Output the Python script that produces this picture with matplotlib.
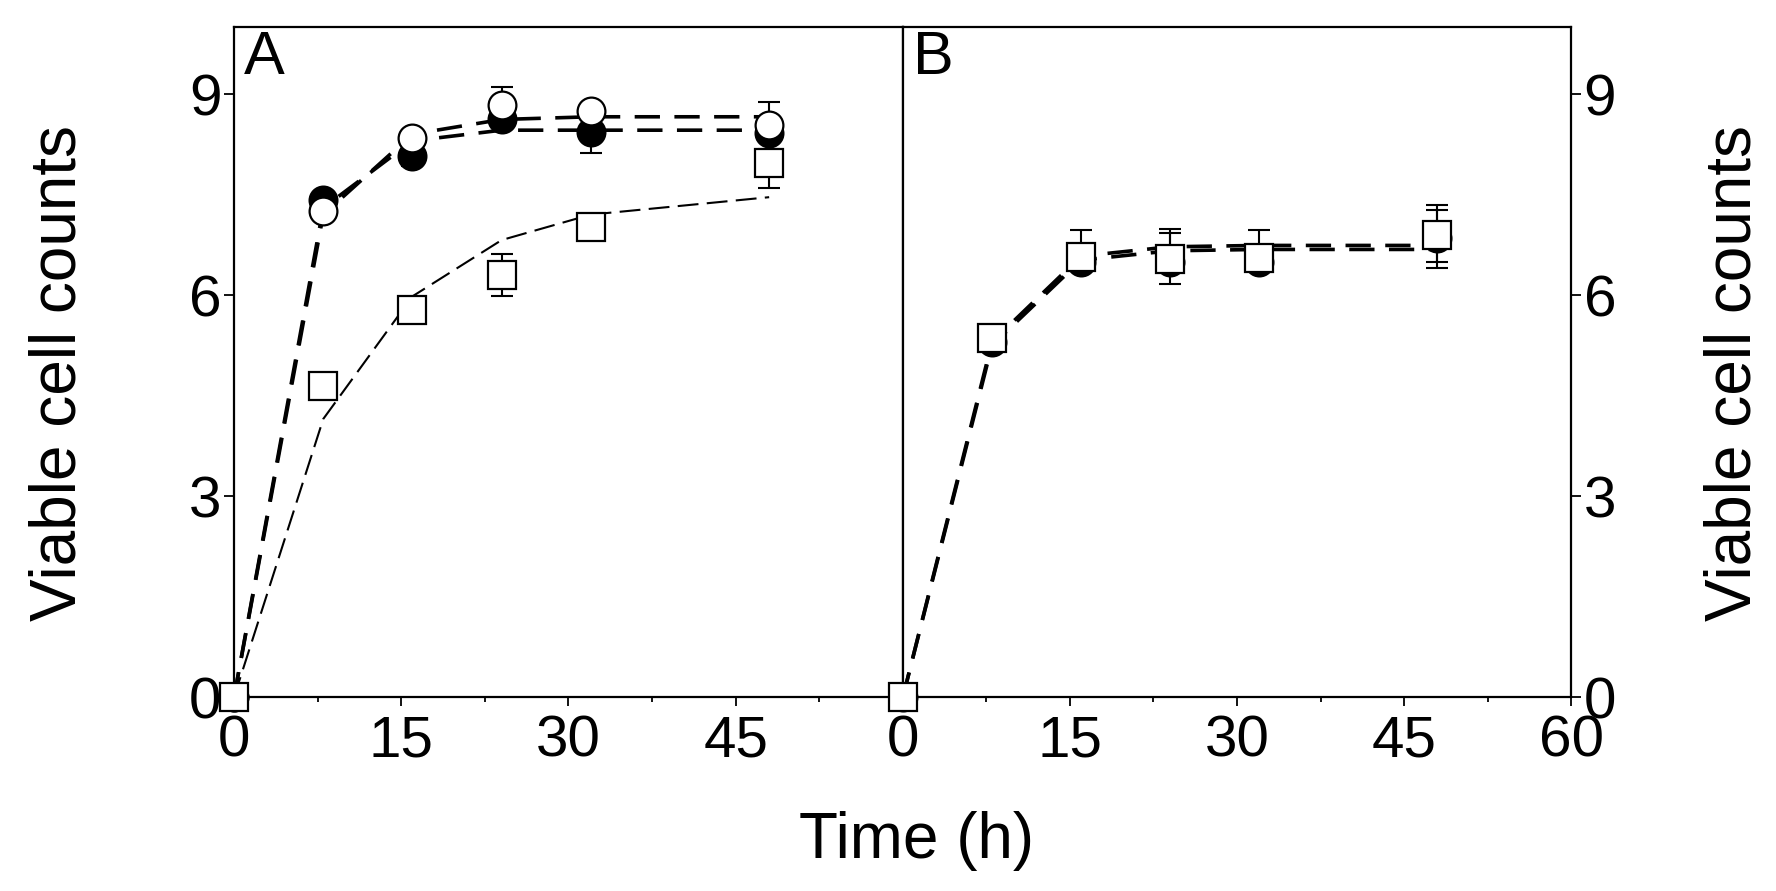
import matplotlib
matplotlib.use("Agg")
import matplotlib.pyplot as plt
from matplotlib.ticker import MultipleLocator

plt.rcParams['font.family'] = ['Liberation Sans', 'DejaVu Sans']

# sampling times (h)
t = [0, 8, 16, 24, 32, 48]

# panel A
a_filled = [0, 7.42, 8.07, 8.62, 8.44, 8.42]
a_filled_err = [0, 0.1, 0.15, 0.1, 0.32, 0.1]
a_open = [0, 7.25, 8.34, 8.83, 8.74, 8.53]
a_open_err = [0, 0.1, 0.1, 0.27, 0.1, 0.35]
a_square = [0, 4.64, 5.78, 6.3, 7.02, 7.97]
a_square_err = [0, 0.1, 0.1, 0.31, 0.1, 0.37]

a_fit_filled = [0, 7.3, 8.3, 8.46, 8.46, 8.46]
a_fit_open = [0, 7.2, 8.4, 8.62, 8.66, 8.66]
a_fit_square = [0, 4.15, 5.98, 6.82, 7.2, 7.46]

# panel B
b_filled = [0, 5.3, 6.5, 6.5, 6.5, 6.85]
b_filled_lo = [0, 0.05, 0.1, 0.15, 0.1, 0.35]
b_filled_hi = [0, 0.05, 0.1, 0.42, 0.1, 0.42]
b_square = [0, 5.36, 6.57, 6.53, 6.55, 6.9]
b_square_lo = [0, 0.05, 0.1, 0.36, 0.1, 0.5]
b_square_hi = [0, 0.05, 0.4, 0.46, 0.42, 0.45]

b_fit_1 = [0, 5.25, 6.52, 6.66, 6.68, 6.68]
b_fit_2 = [0, 5.3, 6.58, 6.72, 6.74, 6.74]

fig = plt.figure(figsize=(17.76, 8.91), dpi=100)
axA = fig.add_axes([0.1318, 0.2177, 0.3766, 0.752])
axB = fig.add_axes([0.5084, 0.2177, 0.3762, 0.752])

eb = dict(fmt='none', ecolor='black', elinewidth=1.5, capsize=8, capthick=1.5, zorder=3)
mk = dict(linestyle='none', markersize=20, markeredgewidth=1.6, markeredgecolor='black',
          zorder=4, clip_on=False)

# A: fitted curves
axA.plot(t, a_fit_filled, color='black', lw=2.6, dashes=(7, 4), zorder=2)
axA.plot(t, a_fit_open, color='black', lw=2.6, dashes=(7, 4), zorder=2)
axA.plot(t, a_fit_square, color='black', lw=1.5, dashes=(10, 4), zorder=2)

axA.errorbar(t, a_filled, yerr=a_filled_err, **eb)
axA.errorbar(t, a_open, yerr=a_open_err, **eb)
axA.errorbar(t, a_square, yerr=a_square_err, **eb)
axA.plot(t, a_filled, marker='o', markerfacecolor='black', **mk)
axA.plot(t, a_open, marker='o', markerfacecolor='white', **mk)
axA.plot(t, a_square, marker='s', markerfacecolor='white', **mk)

# B
axB.plot(t, b_fit_1, color='black', lw=2.6, dashes=(7, 4), zorder=2)
axB.plot(t, b_fit_2, color='black', lw=2.6, dashes=(7, 4), zorder=2)
axB.errorbar(t, b_filled, yerr=[b_filled_lo, b_filled_hi], **eb)
axB.errorbar(t, b_square, yerr=[b_square_lo, b_square_hi], **eb)
axB.plot(t, b_filled, marker='o', markerfacecolor='black', **mk)
axB.plot(t, b_square, marker='s', markerfacecolor='white', **mk)

for ax in (axA, axB):
    ax.set_xlim(0, 60)
    ax.set_ylim(0, 10)
    for s in ax.spines.values():
        s.set_linewidth(1.6)
    ax.xaxis.set_minor_locator(MultipleLocator(7.5))
    ax.tick_params(axis='x', which='major', direction='out', length=6.5, width=1.3,
                   labelsize=42, pad=6)
    ax.tick_params(axis='x', which='minor', direction='out', length=3.5, width=1.3)
    ax.tick_params(axis='y', which='major', direction='out', length=7, width=1.3,
                   labelsize=42, pad=2)

axA.set_xticks([0, 15, 30, 45])
axA.set_yticks([0, 3, 6, 9])
axA.tick_params(axis='y', left=True, right=False, labelleft=True)

axB.set_xticks([0, 15, 30, 45, 60])
axB.set_yticks([0, 3, 6, 9])
axB.tick_params(axis='y', left=False, labelleft=False, right=True, labelright=True)

axA.text(0.015, 0.995, 'A', transform=axA.transAxes, fontsize=44, va='top', ha='left')
axB.text(0.015, 0.995, 'B', transform=axB.transAxes, fontsize=44, va='top', ha='left')

fig.text(0.033, 0.581, 'Viable cell counts', rotation=90, fontsize=46, ha='center', va='center')
fig.text(0.976, 0.581, 'Viable cell counts', rotation=90, fontsize=46, ha='center', va='center')
fig.text(0.516, 0.037, 'Time (h)', fontsize=46, ha='center', va='baseline')

fig.savefig('out.png', dpi=100)
